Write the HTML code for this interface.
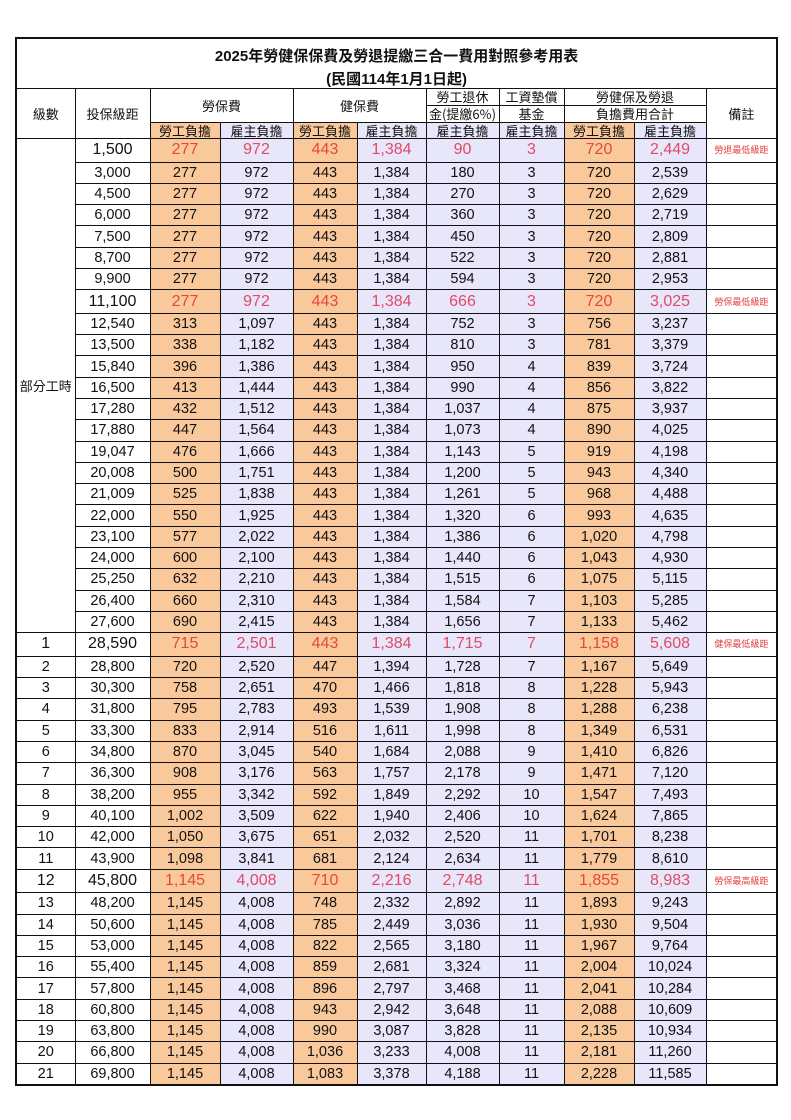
<!DOCTYPE html>
<html><head><meta charset="utf-8">
<style>
body{margin:0;background:#fff;}
table{position:absolute;left:15px;top:37px;border-collapse:collapse;table-layout:fixed;width:761px;border:2px solid #111;font-family:"Liberation Sans","Noto Sans CJK TC",sans-serif;color:#111;}
td{border:1px solid #111;padding:0;text-align:center;font-size:14.5px;line-height:14px;overflow:hidden;white-space:nowrap;}
.h{font-family:"Noto Sans CJK TC",sans-serif;font-size:13px;}
.o{background:#f9c99c;}
.l{background:#e7e6fa;}
tr.r td{height:20.3px;}
tr.s td{height:22.5px;font-size:16px;}
tr.s td.o{color:#e5483b;}
tr.s td.l{color:#e24a63;}
tr.s td.n{color:#e53b3b;font-size:9px;font-family:"Noto Sans CJK TC",sans-serif;}
.title{font-size:15px;font-weight:bold;font-family:"Liberation Sans","Noto Sans CJK TC",sans-serif;}
</style></head><body>
<table>
<colgroup><col style="width:59px"><col style="width:75px"><col style="width:70px"><col style="width:73px"><col style="width:64px"><col style="width:69px"><col style="width:73px"><col style="width:65px"><col style="width:70px"><col style="width:72px"><col style="width:71px"></colgroup>
<tr><td colspan="11" class="title" style="height:28px;border-bottom:none;padding-top:4px;">2025年勞健保保費及勞退提繳三合一費用對照參考用表</td></tr>
<tr><td colspan="11" class="title" style="height:17px;border-top:none;">(民國114年1月1日起)</td></tr>
<tr><td rowspan="3" class="h">級數</td><td rowspan="3" class="h">投保級距</td><td colspan="2" rowspan="2" class="h">勞保費</td><td colspan="2" rowspan="2" class="h">健保費</td><td class="h" style="height:16px">勞工退休</td><td class="h">工資墊償</td><td colspan="2" class="h">勞健保及勞退</td><td rowspan="3" class="h">備註</td></tr>
<tr><td class="h" style="height:16px">金(提繳6%)</td><td class="h">基金</td><td colspan="2" class="h">負擔費用合計</td></tr>
<tr><td class="h o" style="height:15px">勞工負擔</td><td class="h l">雇主負擔</td><td class="h o">勞工負擔</td><td class="h l">雇主負擔</td><td class="h l">雇主負擔</td><td class="h l">雇主負擔</td><td class="h o">勞工負擔</td><td class="h l">雇主負擔</td></tr>
<tr class="s"><td rowspan="23" class="h" style="font-size:13px;color:#111">部分工時</td><td style="color:#111">1,500</td><td class="o">277</td><td class="l">972</td><td class="o">443</td><td class="l">1,384</td><td class="l">90</td><td class="l">3</td><td class="o">720</td><td class="l">2,449</td><td class="n">勞退最低級距</td></tr>
<tr class="r"><td>3,000</td><td class="o">277</td><td class="l">972</td><td class="o">443</td><td class="l">1,384</td><td class="l">180</td><td class="l">3</td><td class="o">720</td><td class="l">2,539</td><td></td></tr>
<tr class="r"><td>4,500</td><td class="o">277</td><td class="l">972</td><td class="o">443</td><td class="l">1,384</td><td class="l">270</td><td class="l">3</td><td class="o">720</td><td class="l">2,629</td><td></td></tr>
<tr class="r"><td>6,000</td><td class="o">277</td><td class="l">972</td><td class="o">443</td><td class="l">1,384</td><td class="l">360</td><td class="l">3</td><td class="o">720</td><td class="l">2,719</td><td></td></tr>
<tr class="r"><td>7,500</td><td class="o">277</td><td class="l">972</td><td class="o">443</td><td class="l">1,384</td><td class="l">450</td><td class="l">3</td><td class="o">720</td><td class="l">2,809</td><td></td></tr>
<tr class="r"><td>8,700</td><td class="o">277</td><td class="l">972</td><td class="o">443</td><td class="l">1,384</td><td class="l">522</td><td class="l">3</td><td class="o">720</td><td class="l">2,881</td><td></td></tr>
<tr class="r"><td>9,900</td><td class="o">277</td><td class="l">972</td><td class="o">443</td><td class="l">1,384</td><td class="l">594</td><td class="l">3</td><td class="o">720</td><td class="l">2,953</td><td></td></tr>
<tr class="s"><td style="color:#111">11,100</td><td class="o">277</td><td class="l">972</td><td class="o">443</td><td class="l">1,384</td><td class="l">666</td><td class="l">3</td><td class="o">720</td><td class="l">3,025</td><td class="n">勞保最低級距</td></tr>
<tr class="r"><td>12,540</td><td class="o">313</td><td class="l">1,097</td><td class="o">443</td><td class="l">1,384</td><td class="l">752</td><td class="l">3</td><td class="o">756</td><td class="l">3,237</td><td></td></tr>
<tr class="r"><td>13,500</td><td class="o">338</td><td class="l">1,182</td><td class="o">443</td><td class="l">1,384</td><td class="l">810</td><td class="l">3</td><td class="o">781</td><td class="l">3,379</td><td></td></tr>
<tr class="r"><td>15,840</td><td class="o">396</td><td class="l">1,386</td><td class="o">443</td><td class="l">1,384</td><td class="l">950</td><td class="l">4</td><td class="o">839</td><td class="l">3,724</td><td></td></tr>
<tr class="r"><td>16,500</td><td class="o">413</td><td class="l">1,444</td><td class="o">443</td><td class="l">1,384</td><td class="l">990</td><td class="l">4</td><td class="o">856</td><td class="l">3,822</td><td></td></tr>
<tr class="r"><td>17,280</td><td class="o">432</td><td class="l">1,512</td><td class="o">443</td><td class="l">1,384</td><td class="l">1,037</td><td class="l">4</td><td class="o">875</td><td class="l">3,937</td><td></td></tr>
<tr class="r"><td>17,880</td><td class="o">447</td><td class="l">1,564</td><td class="o">443</td><td class="l">1,384</td><td class="l">1,073</td><td class="l">4</td><td class="o">890</td><td class="l">4,025</td><td></td></tr>
<tr class="r"><td>19,047</td><td class="o">476</td><td class="l">1,666</td><td class="o">443</td><td class="l">1,384</td><td class="l">1,143</td><td class="l">5</td><td class="o">919</td><td class="l">4,198</td><td></td></tr>
<tr class="r"><td>20,008</td><td class="o">500</td><td class="l">1,751</td><td class="o">443</td><td class="l">1,384</td><td class="l">1,200</td><td class="l">5</td><td class="o">943</td><td class="l">4,340</td><td></td></tr>
<tr class="r"><td>21,009</td><td class="o">525</td><td class="l">1,838</td><td class="o">443</td><td class="l">1,384</td><td class="l">1,261</td><td class="l">5</td><td class="o">968</td><td class="l">4,488</td><td></td></tr>
<tr class="r"><td>22,000</td><td class="o">550</td><td class="l">1,925</td><td class="o">443</td><td class="l">1,384</td><td class="l">1,320</td><td class="l">6</td><td class="o">993</td><td class="l">4,635</td><td></td></tr>
<tr class="r"><td>23,100</td><td class="o">577</td><td class="l">2,022</td><td class="o">443</td><td class="l">1,384</td><td class="l">1,386</td><td class="l">6</td><td class="o">1,020</td><td class="l">4,798</td><td></td></tr>
<tr class="r"><td>24,000</td><td class="o">600</td><td class="l">2,100</td><td class="o">443</td><td class="l">1,384</td><td class="l">1,440</td><td class="l">6</td><td class="o">1,043</td><td class="l">4,930</td><td></td></tr>
<tr class="r"><td>25,250</td><td class="o">632</td><td class="l">2,210</td><td class="o">443</td><td class="l">1,384</td><td class="l">1,515</td><td class="l">6</td><td class="o">1,075</td><td class="l">5,115</td><td></td></tr>
<tr class="r"><td>26,400</td><td class="o">660</td><td class="l">2,310</td><td class="o">443</td><td class="l">1,384</td><td class="l">1,584</td><td class="l">7</td><td class="o">1,103</td><td class="l">5,285</td><td></td></tr>
<tr class="r"><td>27,600</td><td class="o">690</td><td class="l">2,415</td><td class="o">443</td><td class="l">1,384</td><td class="l">1,656</td><td class="l">7</td><td class="o">1,133</td><td class="l">5,462</td><td></td></tr>
<tr class="s"><td>1</td><td>28,590</td><td class="o">715</td><td class="l">2,501</td><td class="o">443</td><td class="l">1,384</td><td class="l">1,715</td><td class="l">7</td><td class="o">1,158</td><td class="l">5,608</td><td class="n">健保最低級距</td></tr>
<tr class="r"><td>2</td><td>28,800</td><td class="o">720</td><td class="l">2,520</td><td class="o">447</td><td class="l">1,394</td><td class="l">1,728</td><td class="l">7</td><td class="o">1,167</td><td class="l">5,649</td><td></td></tr>
<tr class="r"><td>3</td><td>30,300</td><td class="o">758</td><td class="l">2,651</td><td class="o">470</td><td class="l">1,466</td><td class="l">1,818</td><td class="l">8</td><td class="o">1,228</td><td class="l">5,943</td><td></td></tr>
<tr class="r"><td>4</td><td>31,800</td><td class="o">795</td><td class="l">2,783</td><td class="o">493</td><td class="l">1,539</td><td class="l">1,908</td><td class="l">8</td><td class="o">1,288</td><td class="l">6,238</td><td></td></tr>
<tr class="r"><td>5</td><td>33,300</td><td class="o">833</td><td class="l">2,914</td><td class="o">516</td><td class="l">1,611</td><td class="l">1,998</td><td class="l">8</td><td class="o">1,349</td><td class="l">6,531</td><td></td></tr>
<tr class="r"><td>6</td><td>34,800</td><td class="o">870</td><td class="l">3,045</td><td class="o">540</td><td class="l">1,684</td><td class="l">2,088</td><td class="l">9</td><td class="o">1,410</td><td class="l">6,826</td><td></td></tr>
<tr class="r"><td>7</td><td>36,300</td><td class="o">908</td><td class="l">3,176</td><td class="o">563</td><td class="l">1,757</td><td class="l">2,178</td><td class="l">9</td><td class="o">1,471</td><td class="l">7,120</td><td></td></tr>
<tr class="r"><td>8</td><td>38,200</td><td class="o">955</td><td class="l">3,342</td><td class="o">592</td><td class="l">1,849</td><td class="l">2,292</td><td class="l">10</td><td class="o">1,547</td><td class="l">7,493</td><td></td></tr>
<tr class="r"><td>9</td><td>40,100</td><td class="o">1,002</td><td class="l">3,509</td><td class="o">622</td><td class="l">1,940</td><td class="l">2,406</td><td class="l">10</td><td class="o">1,624</td><td class="l">7,865</td><td></td></tr>
<tr class="r"><td>10</td><td>42,000</td><td class="o">1,050</td><td class="l">3,675</td><td class="o">651</td><td class="l">2,032</td><td class="l">2,520</td><td class="l">11</td><td class="o">1,701</td><td class="l">8,238</td><td></td></tr>
<tr class="r"><td>11</td><td>43,900</td><td class="o">1,098</td><td class="l">3,841</td><td class="o">681</td><td class="l">2,124</td><td class="l">2,634</td><td class="l">11</td><td class="o">1,779</td><td class="l">8,610</td><td></td></tr>
<tr class="s"><td>12</td><td>45,800</td><td class="o">1,145</td><td class="l">4,008</td><td class="o">710</td><td class="l">2,216</td><td class="l">2,748</td><td class="l">11</td><td class="o">1,855</td><td class="l">8,983</td><td class="n">勞保最高級距</td></tr>
<tr class="r"><td>13</td><td>48,200</td><td class="o">1,145</td><td class="l">4,008</td><td class="o">748</td><td class="l">2,332</td><td class="l">2,892</td><td class="l">11</td><td class="o">1,893</td><td class="l">9,243</td><td></td></tr>
<tr class="r"><td>14</td><td>50,600</td><td class="o">1,145</td><td class="l">4,008</td><td class="o">785</td><td class="l">2,449</td><td class="l">3,036</td><td class="l">11</td><td class="o">1,930</td><td class="l">9,504</td><td></td></tr>
<tr class="r"><td>15</td><td>53,000</td><td class="o">1,145</td><td class="l">4,008</td><td class="o">822</td><td class="l">2,565</td><td class="l">3,180</td><td class="l">11</td><td class="o">1,967</td><td class="l">9,764</td><td></td></tr>
<tr class="r"><td>16</td><td>55,400</td><td class="o">1,145</td><td class="l">4,008</td><td class="o">859</td><td class="l">2,681</td><td class="l">3,324</td><td class="l">11</td><td class="o">2,004</td><td class="l">10,024</td><td></td></tr>
<tr class="r"><td>17</td><td>57,800</td><td class="o">1,145</td><td class="l">4,008</td><td class="o">896</td><td class="l">2,797</td><td class="l">3,468</td><td class="l">11</td><td class="o">2,041</td><td class="l">10,284</td><td></td></tr>
<tr class="r"><td>18</td><td>60,800</td><td class="o">1,145</td><td class="l">4,008</td><td class="o">943</td><td class="l">2,942</td><td class="l">3,648</td><td class="l">11</td><td class="o">2,088</td><td class="l">10,609</td><td></td></tr>
<tr class="r"><td>19</td><td>63,800</td><td class="o">1,145</td><td class="l">4,008</td><td class="o">990</td><td class="l">3,087</td><td class="l">3,828</td><td class="l">11</td><td class="o">2,135</td><td class="l">10,934</td><td></td></tr>
<tr class="r"><td>20</td><td>66,800</td><td class="o">1,145</td><td class="l">4,008</td><td class="o">1,036</td><td class="l">3,233</td><td class="l">4,008</td><td class="l">11</td><td class="o">2,181</td><td class="l">11,260</td><td></td></tr>
<tr class="r"><td>21</td><td>69,800</td><td class="o">1,145</td><td class="l">4,008</td><td class="o">1,083</td><td class="l">3,378</td><td class="l">4,188</td><td class="l">11</td><td class="o">2,228</td><td class="l">11,585</td><td></td></tr>
</table>
</body></html>
